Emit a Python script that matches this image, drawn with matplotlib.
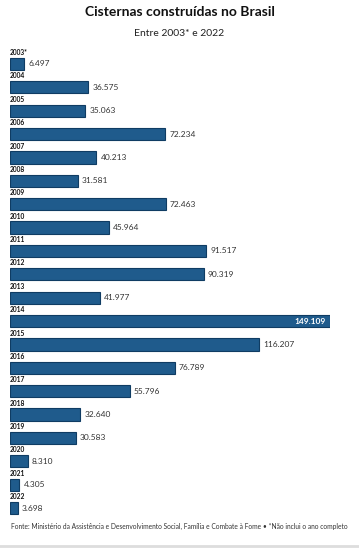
import matplotlib
matplotlib.use("Agg")
import matplotlib.pyplot as plt

years = ["2003*", "2004", "2005", "2006", "2007", "2008", "2009", "2010", "2011", "2012",
         "2013", "2014", "2015", "2016", "2017", "2018", "2019", "2020", "2021", "2022"]
values = [6497, 36575, 35063, 72234, 40213, 31581, 72463, 45964, 91517, 90319,
          41977, 149109, 116207, 76789, 55796, 32640, 30583, 8310, 4305, 3698]
labels = ["6.497", "36.575", "35.063", "72.234", "40.213", "31.581", "72.463", "45.964",
          "91.517", "90.319", "41.977", "149.109", "116.207", "76.789", "55.796", "32.640",
          "30.583", "8.310", "4.305", "3.698"]

plt.rcParams['font.family'] = ['Lato', 'DejaVu Sans']

W, H = 359, 548
fig = plt.figure(figsize=(W / 100, H / 100), dpi=100)
fig.patch.set_facecolor("white")

top_px, bot_px = 52.3, 519.7
left_px, right_px = 10, 330
ax = fig.add_axes([left_px / W, 1 - bot_px / H, (right_px - left_px) / W, (bot_px - top_px) / H])
ax.set_xlim(0, max(values))
ax.set_ylim(len(values) - 0.5, -0.5)
ax.axis("off")

pos = list(range(len(values)))
ax.barh(pos, values, height=0.52, color="#1f5b8c", edgecolor="#0f3c63", linewidth=0.8)

imax = values.index(max(values))
for i, (y, v, lab) in enumerate(zip(years, values, labels)):
    ax.annotate(y, xy=(0, i), xytext=(0, 8.2), textcoords="offset points",
                fontsize=4.8, fontweight="bold", ha="left", va="center", color="#111111",
                annotation_clip=False)
    if i == imax:
        ax.annotate(lab, xy=(v, i), xytext=(-3, 0), textcoords="offset points",
                    fontsize=6, fontweight="bold", ha="right", va="center", color="white")
    else:
        ax.annotate(lab, xy=(v, i), xytext=(3, 0), textcoords="offset points",
                    fontsize=6, ha="left", va="center", color="#333333")

fig.text(0.5, 1 - 12 / H, "Cisternas construídas no Brasil", ha="center", va="center",
         fontsize=10, fontweight="bold", color="#111111")
fig.text(0.5, 1 - 33 / H, "Entre 2003* e 2022", ha="center", va="center",
         fontsize=7.5, color="#222222")
fig.text(0.5, 1 - 526 / H,
         "Fonte: Ministério da Assistência e Desenvolvimento Social, Família e Combate à Fome • *Não inclui o ano completo",
         ha="center", va="center", fontsize=4.75, color="#333333")
fig.add_artist(plt.Line2D([0, 1], [1 - 545.5 / H] * 2, color="#dddddd", linewidth=2))

fig.savefig("out.png", dpi=100, facecolor="white")
